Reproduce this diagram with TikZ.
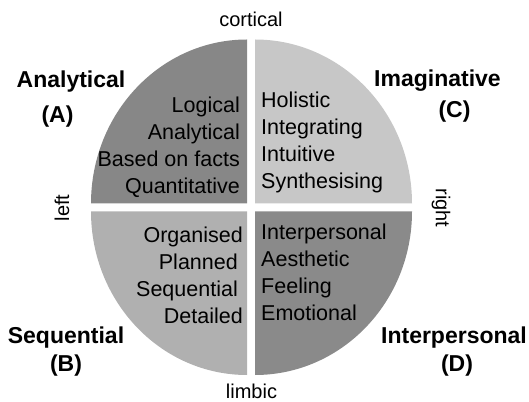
\documentclass[tikz,border=0pt]{standalone}
\usepackage{fontspec}
\setmainfont{Liberation Sans}
\definecolor{quadA}{gray}{0.53}
\definecolor{quadB}{gray}{0.69}
\definecolor{quadC}{gray}{0.78}
\definecolor{quadD}{gray}{0.54}

\begin{document}
\begin{tikzpicture}[x=1pt,y=1pt,
    trait/.style={inner sep=0pt, font=\fontsize{21.5}{27}\selectfont},
    mode/.style={inner sep=0pt, anchor=base, font=\fontsize{23}{27}\selectfont\bfseries},
    pole/.style={inner sep=0pt, font=\fontsize{20}{24}\selectfont}]
    \useasboundingbox (0,0) rectangle (529,401);

    \fill[quadA] (247,197.5) -- (247,361.5) arc[start angle=90, end angle=180, x radius=156, y radius=164] -- cycle;
    \fill[quadC] (255,197.5) -- (412,197.5) arc[start angle=0, end angle=90, x radius=157, y radius=164] -- cycle;
    \fill[quadB] (247,189.5) -- (91,189.5) arc[start angle=180, end angle=270, x radius=156, y radius=163.5] -- cycle;
    \fill[quadD] (255,189.5) -- (255,26) arc[start angle=270, end angle=360, x radius=157, y radius=163.5] -- cycle;

    \node[trait, anchor=north east, align=right] (listA) at (240,304.5) {Logical\\Analytical\\Based on facts\\Quantitative};
    \node[trait, anchor=north west, align=left] (listC) at (261,309) {Holistic\\Integrating\\Intuitive\\Synthesising};
    \node[trait, anchor=north east, align=right] (listB) at (243,174.5) {Organised\\Planned\kern5pt\\Sequential\kern5pt\\Detailed};
    \node[trait, anchor=north west, align=left] (listD) at (261,177.5) {Interpersonal\\Aesthetic\\Feeling\\Emotional};

    \node[mode] (analytical) at (71,313) {Analytical};
    \node[mode] (modeA) at (57.5,278) {(A)};
    \node[mode] (imaginative) at (437.5,314) {Imaginative};
    \node[mode] (modeC) at (454.5,283) {(C)};
    \node[mode] (sequential) at (66,57) {Sequential};
    \node[mode] (modeB) at (66,30) {(B)};
    \node[mode] (interpersonal) at (454,57) {Interpersonal};
    \node[mode] (modeD) at (457,30) {(D)};

    \node[pole, anchor=base] (cortical) at (251,374) {cortical};
    \node[pole, anchor=base] (limbic) at (251.5,3) {limbic};
    \node[pole, rotate=90] (leftside) at (62,193) {left};
    \node[pole, rotate=-90] (rightside) at (441,193) {right};
\end{tikzpicture}
\end{document}
